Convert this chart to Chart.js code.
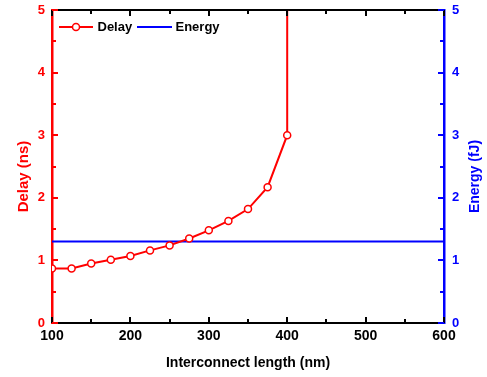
<!DOCTYPE html>
<html><head><meta charset="utf-8">
<script src="https://cdn.jsdelivr.net/npm/chart.js@4/dist/chart.umd.min.js"></script>
<style>html,body{margin:0;padding:0;background:#fff}</style>
</head><body>
<canvas id="c" width="487" height="377"></canvas>
<script>
// ---- data ----
const lengthsNm = [100,125,150,175,200,225,250,275,300,325,350,375,400];
const delayNs   = [0.87,0.87,0.95,1.01,1.07,1.16,1.24,1.35,1.48,1.63,1.82,2.17,3.00];
const delayRiseLength = [400];   // delay rises off scale beyond 400 nm
const delayRiseValue  = [5];
const energyLengthsNm = [100,600];
const energyFJ        = [1.3,1.3];
const xMinorTicks = [100,150,200,250,300,350,400,450,500,550,600];
const yMinorTicks = [0,0.5,1,1.5,2,2.5,3,3.5,4,4.5,5];

const RED='#ff0000', BLUE='#0000ff', BLACK='#000000';
const FAM='"Liberation Sans", Arial, sans-serif';

const delayPts = lengthsNm.map((x,i)=>({x, y: delayNs[i]}))
  .concat(delayRiseLength.map((x,i)=>({x, y: delayRiseValue[i]})));
const delayRadii = lengthsNm.map(()=>3.5).concat(delayRiseLength.map(()=>0));
const energyPts = energyLengthsNm.map((x,i)=>({x, y: energyFJ[i]}));

const tickPlugin = {
  id:'ticksIn',
  afterDatasetsDraw(chart){
    const ctx = chart.ctx, a = chart.chartArea;
    const x = chart.scales.x, y = chart.scales.y, y2 = chart.scales.y2;
    ctx.save();
    ctx.lineWidth = 2;
    ctx.strokeStyle = BLACK;
    xMinorTicks.forEach(v=>{
      const px = Math.round(x.getPixelForValue(v));
      const L = (v % 100 === 0) ? 6 : 4;
      ctx.beginPath(); ctx.moveTo(px, a.bottom); ctx.lineTo(px, a.bottom - L); ctx.stroke();
      ctx.beginPath(); ctx.moveTo(px, a.top); ctx.lineTo(px, a.top + L); ctx.stroke();
    });
    yMinorTicks.forEach(v=>{
      const L = (v % 1 === 0) ? 6 : 4;
      let py = Math.round(y.getPixelForValue(v));
      ctx.strokeStyle = RED;
      ctx.beginPath(); ctx.moveTo(a.left, py); ctx.lineTo(a.left + L, py); ctx.stroke();
      py = Math.round(y2.getPixelForValue(v));
      ctx.strokeStyle = BLUE;
      ctx.beginPath(); ctx.moveTo(a.right, py); ctx.lineTo(a.right - L, py); ctx.stroke();
    });
    ctx.restore();
  },
  afterDraw(chart){
    const ctx = chart.ctx, a = chart.chartArea;
    const yc = (a.top + a.bottom)/2 + 10;
    // axis titles, reading bottom to top
    ctx.save();
    ctx.font = 'bold 15px ' + FAM;
    ctx.fillStyle = RED;
    ctx.textAlign = 'center'; ctx.textBaseline = 'middle';
    ctx.translate(24, yc);
    ctx.rotate(-Math.PI/2);
    ctx.fillText('Delay (ns)', 0, 0);
    ctx.restore();
    ctx.save();
    ctx.font = 'bold 14px ' + FAM;
    ctx.fillStyle = BLUE;
    ctx.textAlign = 'center'; ctx.textBaseline = 'middle';
    ctx.translate(475, yc);
    ctx.rotate(-Math.PI/2);
    ctx.fillText('Energy (fJ)', 0, 0);
    ctx.restore();
    // legend
    ctx.save();
    const ly = 27;
    const ds = chart.data.datasets;
    ctx.lineWidth = 2;
    ctx.strokeStyle = ds[0].borderColor;
    ctx.beginPath(); ctx.moveTo(59, ly); ctx.lineTo(93, ly); ctx.stroke();
    ctx.fillStyle = '#fff'; ctx.lineWidth = 1.5;
    ctx.beginPath(); ctx.arc(76, ly, 3.5, 0, Math.PI*2); ctx.fill(); ctx.stroke();
    ctx.lineWidth = 2;
    ctx.strokeStyle = ds[1].borderColor;
    ctx.beginPath(); ctx.moveTo(137, ly); ctx.lineTo(172, ly); ctx.stroke();
    ctx.font = 'bold 13px ' + FAM;
    ctx.fillStyle = BLACK; ctx.textBaseline = 'middle'; ctx.textAlign = 'left';
    ctx.fillText(ds[0].label, 97.5, ly + 0.5);
    ctx.fillText(ds[1].label, 175.5, ly + 0.5);
    ctx.restore();
  }
};

function noPad(s){ s.paddingTop = 0; s.paddingBottom = 0; s.paddingLeft = 0; s.paddingRight = 0; }

new Chart(document.getElementById('c'), {
  type: 'scatter',
  data: { datasets: [
    { label:'Delay', data: delayPts, xAxisID:'x', yAxisID:'y', showLine:true,
      borderColor: RED, borderWidth: 2, pointRadius: delayRadii, pointBackgroundColor:'#fff',
      pointBorderColor: RED, pointBorderWidth: 1.5, tension: 0 },
    { label:'Energy', data: energyPts, xAxisID:'x', yAxisID:'y2', showLine:true,
      borderColor: BLUE, borderWidth: 2, pointRadius: 0, tension: 0 }
  ]},
  options: {
    responsive:false, devicePixelRatio:1, animation:false,
    layout:{ padding:{ top:10, left:0, right:0, bottom:0 } },
    plugins:{ legend:{display:false}, tooltip:{enabled:false} },
    scales:{
      x:{ type:'linear', position:'bottom', min:100, max:600,
        ticks:{ stepSize:100, color:BLACK, font:{family:FAM, size:14, weight:'bold'}, padding:5, maxRotation:0 },
        grid:{ display:false, drawTicks:false },
        border:{ display:true, color:BLACK, width:2 },
        title:{ display:true, text:'Interconnect length (nm)', color:BLACK,
          font:{family:FAM, size:14, weight:'bold'}, padding:{top:0, bottom:5} },
        afterFit(s){ s.height = 54; noPad(s); } },
      xTop:{ type:'linear', position:'top', min:100, max:600,
        ticks:{ display:false }, grid:{ display:false, drawTicks:false },
        border:{ display:true, color:BLACK, width:2 },
        afterFit(s){ s.height = 0; noPad(s); } },
      y:{ type:'linear', position:'left', min:0, max:5,
        ticks:{ stepSize:1, color:RED, font:{family:FAM, size:13, weight:'bold'}, padding:7 },
        grid:{ display:false, drawTicks:false },
        border:{ display:true, color:RED, width:2.5 },
        afterFit(s){ s.width = 52; noPad(s); } },
      y2:{ type:'linear', position:'right', min:0, max:5,
        ticks:{ stepSize:1, color:BLUE, font:{family:FAM, size:13, weight:'bold'}, padding:8 },
        grid:{ display:false, drawTicks:false },
        border:{ display:true, color:BLUE, width:2.5 },
        afterFit(s){ s.width = 43; noPad(s); } }
    }
  },
  plugins:[tickPlugin]
});
</script>
</body></html>
